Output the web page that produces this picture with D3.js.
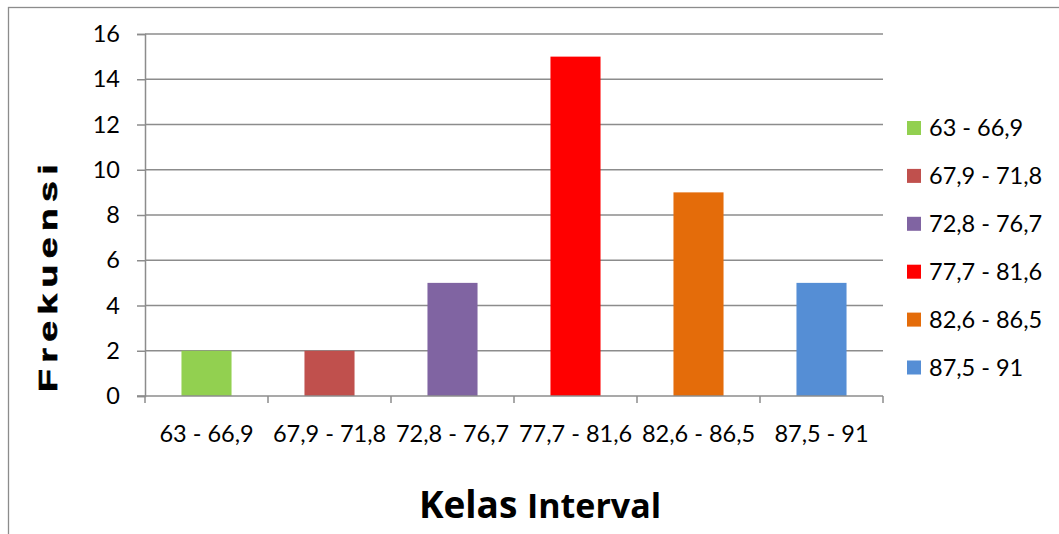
<!DOCTYPE html>
<html>
<head>
<meta charset="utf-8">
<script src="https://cdn.jsdelivr.net/npm/d3@7"></script>
<style>
  html, body { margin: 0; padding: 0; background: #fff; }
  svg { display: block; }
</style>
</head>
<body>
<svg id="chart" width="1059" height="534"></svg>
<script>
// Frequency distribution by class interval
const categories = ["63 - 66,9", "67,9 - 71,8", "72,8 - 76,7", "77,7 - 81,6", "82,6 - 86,5", "87,5 - 91"];
const frequencies = [2, 2, 5, 15, 9, 5];
const colors = ["#92D050", "#C0504D", "#8064A2", "#FF0000", "#E46C0A", "#558ED5"];
const yTicks = [0, 2, 4, 6, 8, 10, 12, 14, 16];

const svg = d3.select("#chart");
const font = "Lato, 'Open Sans', sans-serif";
const titleFont = "'Open Sans', Lato, sans-serif";
const gridColor = "#8c8c8c";

// chart frame
svg.append("rect")
  .attr("x", 8.5).attr("y", 7.5)
  .attr("width", 1100).attr("height", 600)
  .attr("fill", "none").attr("stroke", gridColor).attr("stroke-width", 1.3);

const plot = { left: 145, right: 883, top: 34, bottom: 396 };

const x = d3.scaleBand()
  .domain(categories)
  .range([plot.left, plot.right])
  .paddingInner(0.593)
  .paddingOuter(0.2965);

const y = d3.scaleLinear().domain([0, 16]).range([plot.bottom, plot.top]);

// horizontal gridlines
svg.append("g")
  .selectAll("line")
  .data(yTicks.filter(d => d > 0))
  .join("line")
  .attr("x1", plot.left).attr("x2", plot.right)
  .attr("y1", d => y(d)).attr("y2", d => y(d))
  .attr("stroke", gridColor).attr("stroke-width", 1.5);

// y axis
const yAxis = svg.append("g")
  .attr("transform", `translate(${plot.left},0)`)
  .call(d3.axisLeft(y).tickValues(yTicks).tickSize(8).tickPadding(17));
yAxis.select(".domain").attr("stroke", gridColor).attr("stroke-width", 1.5);
yAxis.selectAll(".tick line").attr("stroke", gridColor).attr("stroke-width", 1.5);
yAxis.selectAll(".tick text")
  .attr("fill", "#000").attr("font-family", font).attr("font-size", 23.5);

// bars
svg.append("g")
  .selectAll("rect")
  .data(categories)
  .join("rect")
  .attr("x", d => x(d))
  .attr("width", x.bandwidth())
  .attr("y", (d, i) => y(frequencies[i]))
  .attr("height", (d, i) => y(0) - y(frequencies[i]))
  .attr("fill", (d, i) => colors[i]);

// x axis with ticks on band boundaries
const xAxis = svg.append("g")
  .attr("transform", `translate(0,${plot.bottom})`);
xAxis.append("line")
  .attr("x1", plot.left - 8).attr("x2", plot.right)
  .attr("stroke", gridColor).attr("stroke-width", 1.5);
const boundaries = d3.range(categories.length + 1).map(i => plot.left + i * (plot.right - plot.left) / categories.length);
xAxis.selectAll("line.tick")
  .data(boundaries)
  .join("line")
  .attr("class", "tick")
  .attr("x1", d => d).attr("x2", d => d)
  .attr("y1", 0).attr("y2", 7)
  .attr("stroke", gridColor).attr("stroke-width", 1.5);
xAxis.selectAll("text")
  .data(categories)
  .join("text")
  .attr("x", d => x(d) + x.bandwidth() / 2)
  .attr("y", 46)
  .attr("text-anchor", "middle")
  .attr("font-family", font).attr("font-size", 23.5)
  .attr("fill", "#000")
  .text(d => d);

// y axis title (wide, stretched heavy lettering)
svg.append("text")
  .attr("transform", "translate(57,275) rotate(-90) scale(1.5,1)")
  .attr("text-anchor", "middle")
  .attr("font-family", "'Liberation Sans', Arial, sans-serif")
  .attr("font-weight", "bold")
  .attr("font-size", 25)
  .attr("letter-spacing", 4.2)
  .attr("fill", "#000")
  .attr("stroke", "#000")
  .attr("stroke-width", 0.6)
  .text("Frekuensi");

// x axis title
const xt = svg.append("text")
  .attr("x", 540).attr("y", 518)
  .attr("text-anchor", "middle")
  .attr("font-family", titleFont)
  .attr("font-weight", "bold");
xt.append("tspan").attr("font-size", 37).text("Kelas ");
xt.append("tspan").attr("font-size", 34).text("Interval");

// legend
const legend = svg.append("g").attr("transform", "translate(907,128)");
const rows = legend.selectAll("g")
  .data(categories)
  .join("g")
  .attr("transform", (d, i) => `translate(0,${i * 47.9})`);
rows.append("rect")
  .attr("x", 0).attr("y", -7)
  .attr("width", 14).attr("height", 14)
  .attr("fill", (d, i) => colors[i]);
rows.append("text")
  .attr("x", 22).attr("y", 0)
  .attr("dy", "0.36em")
  .attr("font-family", font).attr("font-size", 23.5)
  .attr("fill", "#000")
  .text(d => d);
</script>
</body>
</html>
